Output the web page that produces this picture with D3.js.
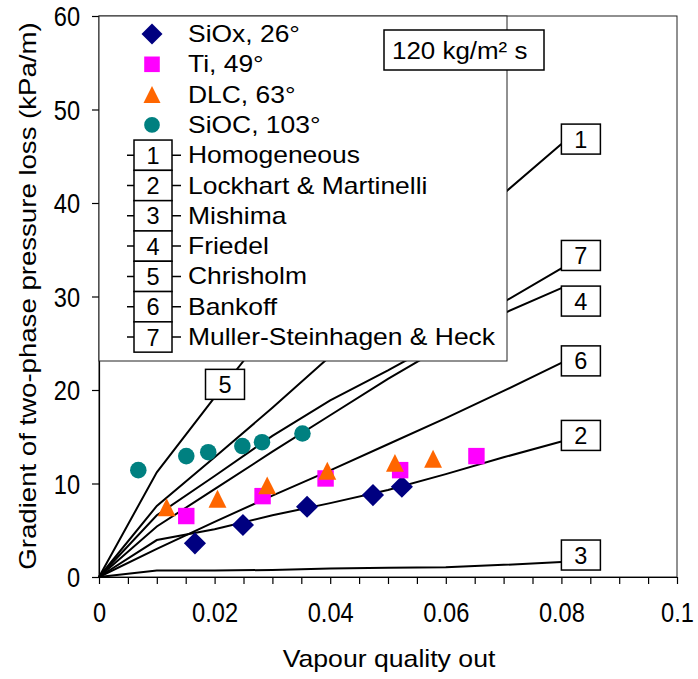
<!DOCTYPE html>
<html>
<head>
<meta charset="utf-8">
<script src="https://cdn.jsdelivr.net/npm/d3@7"></script>
<style>
  body { margin: 0; background: #fff; }
  text { font-family: "Liberation Sans", Arial, sans-serif; fill: #000; }
</style>
</head>
<body>
<div class="container"></div>
<script>
var w = 698;
var h = 679;

// model lines, vapour quality out vs gradient (kPa/m)
var quality = [0, 0.01, 0.02, 0.03, 0.04, 0.05, 0.06, 0.07, 0.08];
var homogeneous = [0, 7.6, 12.8, 18.1, 23.6, 29.4, 35.2, 41.0, 46.3];
var lockhart = [0, 3.95, 5.1, 6.6, 7.9, 9.3, 11.0, 12.8, 14.5];
var mishima = [0, 0.7, 0.7, 0.75, 0.9, 1.0, 1.05, 1.3, 1.6];
var friedel = [0, 5.4, 9.4, 13.4, 17.3, 21.2, 24.8, 28.2, 30.9];
var chrisholm = [0, 11.2, 19.2, 27.0, 34.8];
var bankoff = [0, 3.0, 5.9, 8.7, 11.4, 14.2, 17.0, 19.9, 22.9];
var mullerSteinhagen = [0, 6.6, 10.8, 15.1, 18.9, 22.1, 25.5, 29.4, 33.0];

// measured points
var siOxX = [0.0166, 0.0249, 0.036, 0.0474, 0.0524];
var siOxY = [3.6, 5.56, 7.51, 8.76, 9.65];
var tiX = [0.0151, 0.0283, 0.0392, 0.0521, 0.0653];
var tiY = [6.52, 8.65, 10.54, 11.43, 12.93];
var dlcX = [0.0117, 0.0205, 0.0291, 0.0395, 0.0512, 0.0578];
var dlcY = [7.46, 8.37, 9.8, 11.36, 12.2, 12.64];
var siOcX = [0.0068, 0.0151, 0.0189, 0.0248, 0.0282, 0.0352];
var siOcY = [11.43, 12.93, 13.35, 14.0, 14.42, 15.35];

var modelNames = ["Homogeneous", "Lockhart & Martinelli", "Mishima", "Friedel",
  "Chrisholm", "Bankoff", "Muller-Steinhagen & Heck"];
var pointNames = ["SiOx, 26°", "Ti, 49°", "DLC, 63°", "SiOC, 103°"];
var massFlux = "120 kg/m² s";
var xTicks = d3.range(0, 0.1001, 0.005);
var yTicks = [0, 10, 20, 30, 40, 50, 60];

var models = [homogeneous, lockhart, mishima, friedel, chrisholm, bankoff, mullerSteinhagen]
  .map((v, i) => ({ n: i + 1, name: modelNames[i], pts: v.map((y, j) => [quality[j], y]) }));

// label box offset (px) from the line end; Chrisholm label sits on its line
var labelDy = [-5, -6, -7, 13, 0, -2, -13];

var tri = {
  draw(ctx, size) {
    var s = Math.sqrt(size);
    ctx.moveTo(0, -s / 2);
    ctx.lineTo(s / 2, s / 2);
    ctx.lineTo(-s / 2, s / 2);
    ctx.closePath();
  }
};
var groups = [
  { name: pointNames[0], xs: siOxX, ys: siOxY, color: "#000080", type: d3.symbolSquare, size: 245, rot: 45 },
  { name: pointNames[1], xs: tiX, ys: tiY, color: "#ff00ff", type: d3.symbolSquare, size: 270, rot: 0 },
  { name: pointNames[2], xs: dlcX, ys: dlcY, color: "#ff6600", type: tri, size: 320, rot: 0 },
  { name: pointNames[3], xs: siOcX, ys: siOcY, color: "#008080", type: d3.symbolCircle, size: 215, rot: 0 }
];

var canvas = d3.select(".container").append("svg")
  .attr("width", w).attr("height", h);

var xScale = d3.scaleLinear().domain([0, 0.1]).range([99, 677]);
var yScale = d3.scaleLinear().domain([0, 60]).range([577, 16]);

function stretched(sel, x, y, str, size, sx, anchor) {
  return sel.append("text")
    .attr("transform", "translate(" + x + "," + y + ") scale(" + sx + ",1)")
    .attr("text-anchor", anchor || "start")
    .attr("font-size", size)
    .text(str);
}

// plot frame
canvas.append("rect")
  .attr("x", 99).attr("y", 16).attr("width", 578).attr("height", 561)
  .attr("fill", "none").attr("stroke", "#222").attr("stroke-width", 1);

// axes
var isMajor = d => Math.abs(Math.round(d / 0.02) * 0.02 - d) < 1e-9;
var xAxis = canvas.append("g")
  .attr("transform", "translate(0,577)")
  .call(d3.axisBottom(xScale).tickValues(xTicks).tickSize(7).tickSizeOuter(0)
    .tickFormat(d => isMajor(d) ? String(+d.toFixed(2)) : ""));
xAxis.selectAll("text")
  .attr("y", 45).attr("dy", 0).attr("font-size", 27.5)
  .attr("font-family", "Liberation Sans, Arial, sans-serif")
  .attr("transform", "scale(0.86,1)");

var yAxis = canvas.append("g")
  .attr("transform", "translate(99,0)")
  .call(d3.axisLeft(yScale).tickValues(yTicks).tickSize(7).tickSizeOuter(0));
yAxis.selectAll("text")
  .attr("x", -22).attr("dy", "0.36em").attr("font-size", 27.5)
  .attr("font-family", "Liberation Sans, Arial, sans-serif")
  .attr("transform", "scale(0.86,1)");
canvas.selectAll(".domain").attr("stroke", "#000").attr("stroke-width", 1.2);
canvas.selectAll(".tick line").attr("stroke", "#000").attr("stroke-width", 1.2);

// axis titles
stretched(canvas, 389, 667, "Vapour quality out", 24, 1.11, "middle");
canvas.append("text")
  .attr("transform", "translate(36,296) rotate(-90) scale(1.2,1)")
  .attr("text-anchor", "middle").attr("font-size", 23)
  .text("Gradient of two-phase pressure loss (kPa/m)");

// model lines
var line = d3.line().x(d => xScale(d[0])).y(d => yScale(d[1]));
canvas.append("g").selectAll("path")
  .data(models)
  .enter().append("path")
  .attr("d", d => line(d.pts))
  .attr("fill", "none").attr("stroke", "#000").attr("stroke-width", 2);

// number boxes at the line ends
var labels = canvas.append("g").selectAll("g")
  .data(models)
  .enter().append("g")
  .attr("transform", (d, i) => {
    if (d.n === 5) {
      var xq = 0.0218;
      var yq = d3.scaleLinear().domain(quality.slice(0, d.pts.length)).range(chrisholm)(xq);
      return "translate(" + (xScale(xq) - 19.5) + "," + (yScale(yq) + labelDy[i]) + ")";
    }
    var last = d.pts[d.pts.length - 1];
    return "translate(" + xScale(last[0]) + "," + (yScale(last[1]) + labelDy[i]) + ")";
  });
labels.append("rect")
  .attr("x", 0).attr("y", -15).attr("width", 39).attr("height", 30)
  .attr("fill", "#fff").attr("stroke", "#000").attr("stroke-width", 1.5);
labels.append("text")
  .attr("x", 19.5).attr("y", 8.5).attr("text-anchor", "middle")
  .attr("font-size", 23.5).text(d => d.n);

// measured points
groups.forEach(g => {
  canvas.append("g").selectAll("path")
    .data(g.xs.map((x, i) => [x, g.ys[i]]))
    .enter().append("path")
    .attr("d", d3.symbol().type(g.type).size(g.size))
    .attr("transform", d => "translate(" + xScale(d[0]) + "," + yScale(d[1]) + ") rotate(" + g.rot + ")")
    .attr("fill", g.color);
});

// legend
var legend = canvas.append("g");
legend.append("rect")
  .attr("x", 99).attr("y", 16).attr("width", 408).attr("height", 345)
  .attr("fill", "#fff").attr("stroke", "#222").attr("stroke-width", 1);
var rowY = i => 34 + 30.3 * i;

groups.forEach((g, i) => {
  legend.append("path")
    .attr("d", d3.symbol().type(g.type).size(g.size * 0.9))
    .attr("transform", "translate(152," + rowY(i) + ") rotate(" + g.rot + ")")
    .attr("fill", g.color);
  stretched(legend, 188, rowY(i) + 8, g.name, 23, 1.15);
});

models.forEach((m, k) => {
  var y = rowY(k + 4);
  legend.append("line")
    .attr("x1", 127).attr("x2", 181).attr("y1", y).attr("y2", y)
    .attr("stroke", "#000").attr("stroke-width", 1.5);
  legend.append("rect")
    .attr("x", 134).attr("y", y - 15.15).attr("width", 38).attr("height", 30.3)
    .attr("fill", "#fff").attr("stroke", "#000").attr("stroke-width", 1.5);
  legend.append("text")
    .attr("x", 153).attr("y", y + 8.5).attr("text-anchor", "middle")
    .attr("font-size", 23.5).text(m.n);
  stretched(legend, 188, y + 8, m.name, 23, 1.15);
});

// mass flux box
legend.append("rect")
  .attr("x", 384).attr("y", 30).attr("width", 160).attr("height", 40)
  .attr("fill", "#fff").attr("stroke", "#000").attr("stroke-width", 1.5);
stretched(legend, 392, 59, massFlux, 24, 1.08);
</script>
</body>
</html>
